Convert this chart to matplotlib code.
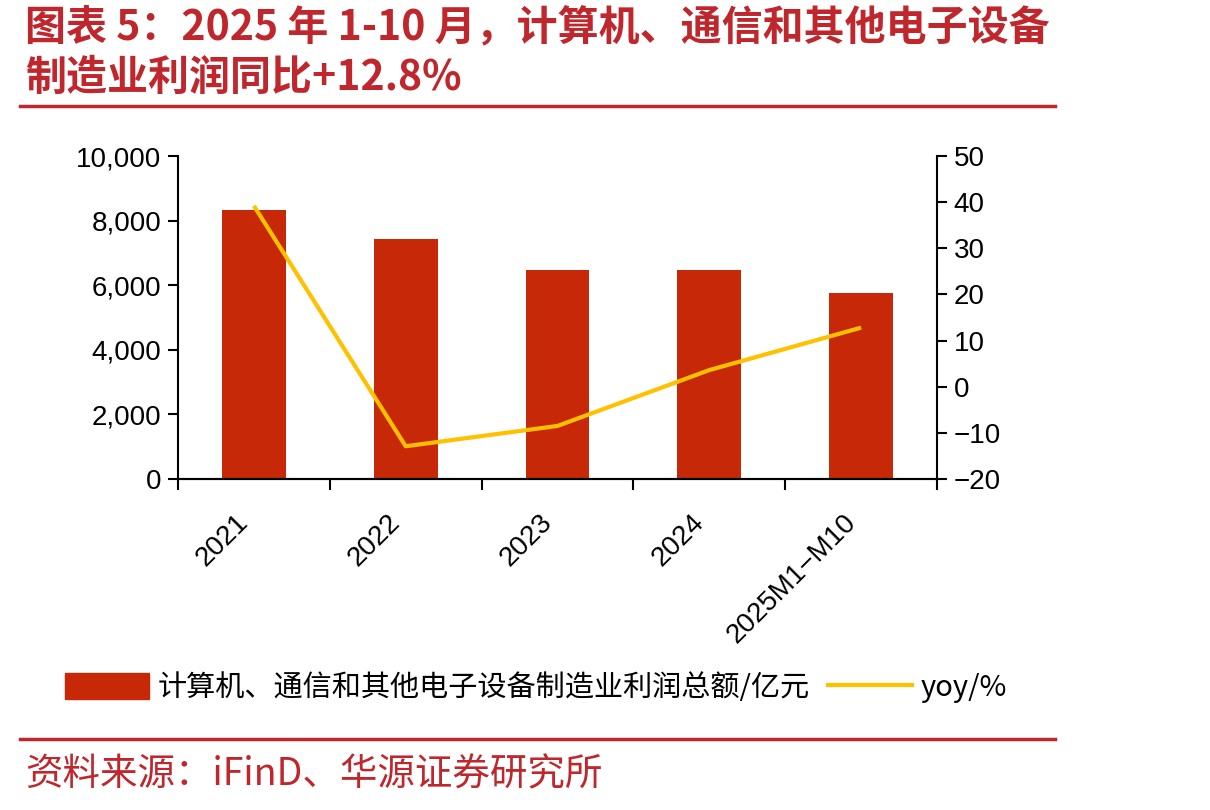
import matplotlib
matplotlib.use("Agg")
import matplotlib.pyplot as plt
from matplotlib.ticker import FuncFormatter, FixedLocator
from matplotlib.patches import Patch
from matplotlib.lines import Line2D
import numpy as np

# 数据
categories = ["2021", "2022", "2023", "2024", "2025M1\u2212M10"]
profit = [8330, 7430, 6470, 6470, 5760]   # 亿元
yoy = [39.2, -12.9, -8.5, 3.6, 12.8]        # %

bar_label = "计算机、通信和其他电子设备制造业利润总额/亿元"
line_label = "yoy/%"
title_lines = ["图表 5：2025 年 1-10 月，计算机、通信和其他电子设备", "制造业利润同比+12.8%"]
source = "资料来源：iFinD、华源证券研究所"

RED_TXT = "#C0272D"
BAR_C = "#C62808"
LINE_C = "#FFC000"
CJK = ["Noto Sans CJK SC", "DejaVu Sans"]
LAT = ["Liberation Sans", "Noto Sans CJK SC"]

fig = plt.figure(figsize=(12.1, 8.1), dpi=100)
ax = fig.add_axes([178 / 1210, 1 - 479 / 810, (937 - 178) / 1210, (479 - 156) / 810])
ax2 = ax.twinx()

x = np.arange(len(categories))
ax.bar(x, profit, width=0.42, color=BAR_C, zorder=2)
ax2.plot(x, yoy, color=LINE_C, linewidth=3, solid_capstyle="butt", zorder=3)

ax.set_xlim(-0.5, len(categories) - 0.5)
ax.set_ylim(0, 10000)
ax2.set_ylim(-20, 50)
ax.set_yticks(np.arange(0, 10001, 2000))
ax2.set_yticks(np.arange(-20, 51, 10))
ax.yaxis.set_major_formatter(FuncFormatter(lambda v, p: f"{int(v):,}"))

ax.set_xticks(x)
ax.set_xticklabels(categories, rotation=45, ha="right", va="bottom", rotation_mode="anchor",
                   family=LAT, fontsize=20)
ax.xaxis.set_minor_locator(FixedLocator(np.arange(-0.5, len(categories), 1)))
ax.tick_params(axis="x", which="major", length=0, pad=35)
ax.tick_params(axis="x", which="minor", length=8, width=1.5, direction="out")
ax.tick_params(axis="y", length=7, width=1.5, direction="out", labelsize=20, pad=5)
ax2.tick_params(axis="y", length=7, width=1.5, direction="out", labelsize=20, pad=5)
for lab in ax.get_yticklabels() + ax2.get_yticklabels():
    lab.set_family(LAT)

for a in (ax, ax2):
    a.spines["top"].set_visible(False)
    for s in ("left", "right", "bottom"):
        a.spines[s].set_linewidth(1.5)
ax.spines["right"].set_visible(False)
ax2.spines["left"].set_visible(False)

# 图例
handles = [Patch(color=BAR_C), Line2D([0], [0], color=LINE_C, linewidth=3)]
fig.legend(handles, [bar_label, line_label], loc="center", ncol=2,
           bbox_to_anchor=(536 / 1210, 1 - 688 / 810), frameon=False,
           prop={"family": CJK, "size": 21}, handlelength=2.9, handleheight=1.0,
           columnspacing=0.6, handletextpad=0.3)

# 标题
fig.text(25 / 1210, 1 - 27 / 810, title_lines[0], color=RED_TXT, family=CJK,
         fontsize=29.5, fontweight="bold", va="center", ha="left")
fig.text(25 / 1210, 1 - 78 / 810, title_lines[1], color=RED_TXT, family=CJK,
         fontsize=29.5, fontweight="bold", va="center", ha="left")
fig.add_artist(Line2D([20 / 1210, 1055 / 1210], [1 - 106 / 810] * 2, color=RED_TXT, linewidth=2.5))
fig.add_artist(Line2D([20 / 1210, 1055 / 1210], [1 - 739 / 810] * 2, color=RED_TXT, linewidth=2.5))
fig.text(25 / 1210, 1 - 775 / 810, source, color=RED_TXT, family=CJK,
         fontsize=27, va="center", ha="left")

fig.savefig("out.png", dpi=100, facecolor="white")
